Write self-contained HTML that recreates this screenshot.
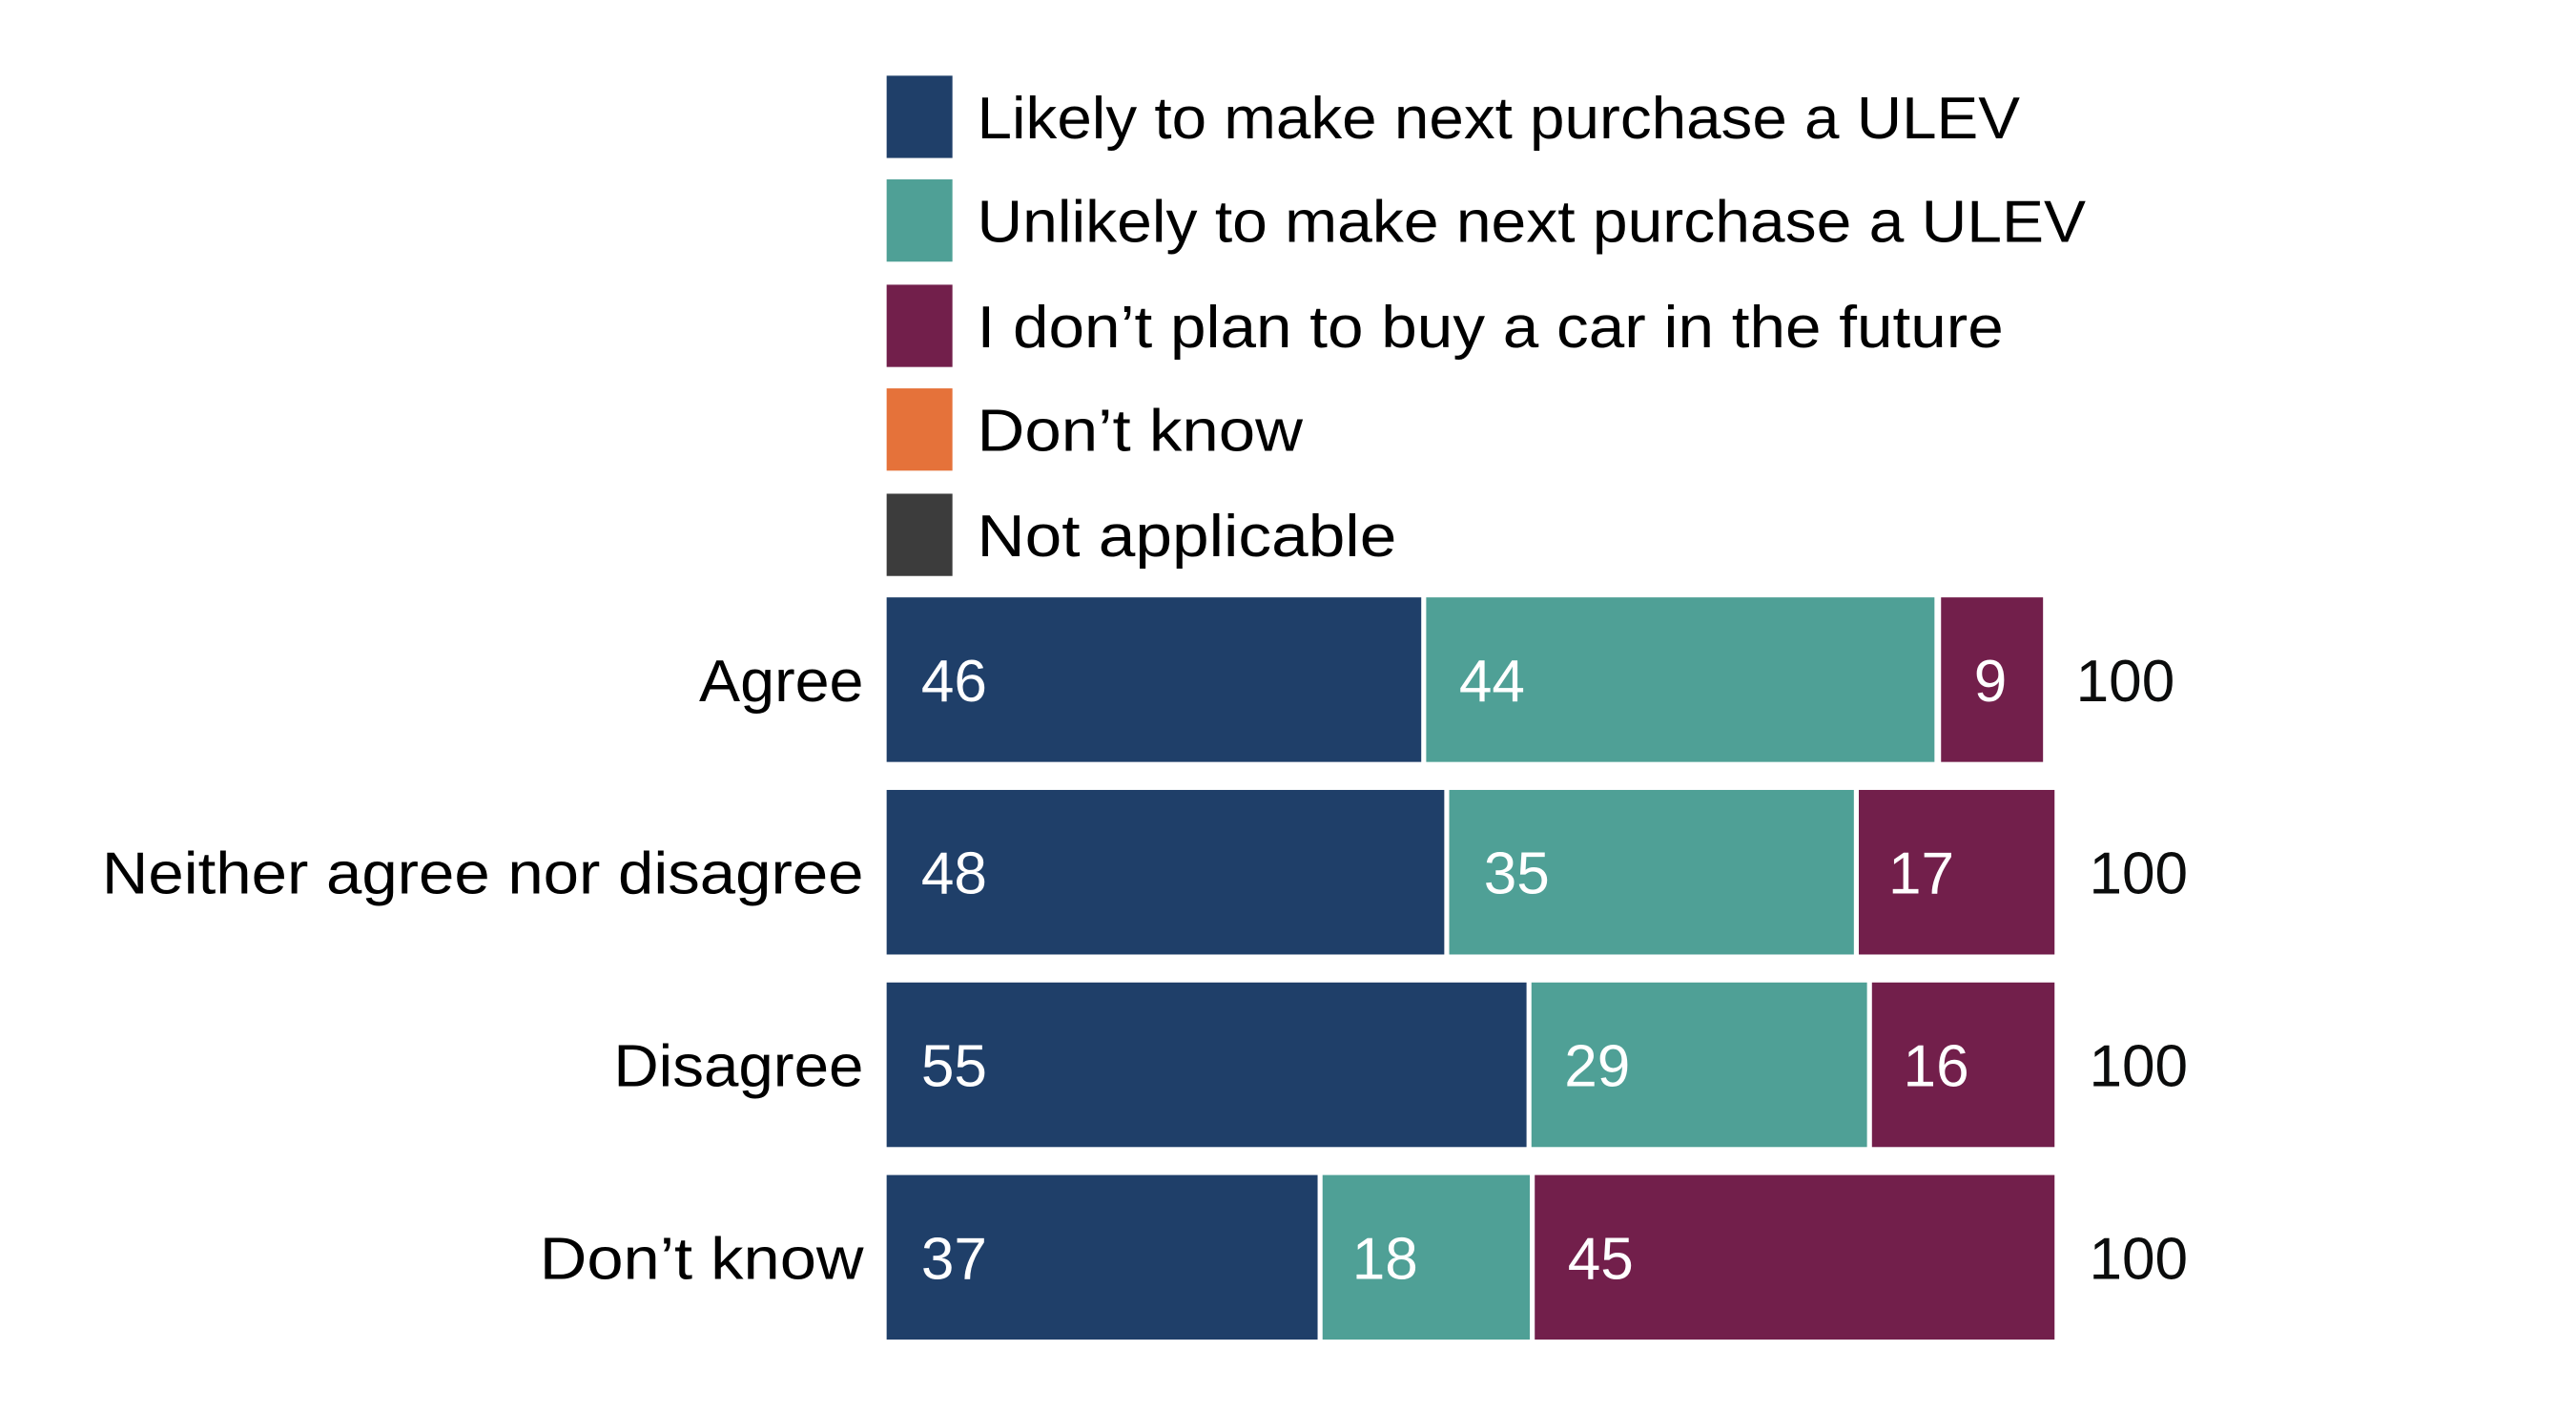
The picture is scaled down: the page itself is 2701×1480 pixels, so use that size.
<!DOCTYPE html>
<html><head><meta charset="utf-8"><style>
html,body{margin:0;padding:0;background:#fff;}
svg{display:block;}
text{font-family:"Liberation Sans",sans-serif;font-size:36px;}
</style></head><body>
<svg width="2701" height="1480" viewBox="0 0 1566 858" preserveAspectRatio="none" xmlns="http://www.w3.org/2000/svg">
<g>
<rect x="539" y="46" width="40" height="50" fill="#1f3f69"/>
<rect x="539" y="109" width="40" height="50" fill="#4fa096"/>
<rect x="539" y="173" width="40" height="50" fill="#721f4b"/>
<rect x="539" y="236" width="40" height="50" fill="#e5723a"/>
<rect x="539" y="300" width="40" height="50" fill="#3c3c3c"/>
<text x="594" y="84" textLength="634" lengthAdjust="spacingAndGlyphs">Likely to make next purchase a ULEV</text>
<text x="594" y="147" textLength="674" lengthAdjust="spacingAndGlyphs">Unlikely to make next purchase a ULEV</text>
<text x="594" y="211" textLength="624" lengthAdjust="spacingAndGlyphs">I don’t plan to buy a car in the future</text>
<text x="594" y="274" textLength="198" lengthAdjust="spacingAndGlyphs">Don’t know</text>
<text x="594" y="338" textLength="255" lengthAdjust="spacingAndGlyphs">Not applicable</text>
</g>
<g text-anchor="end">
<text x="525" y="426" textLength="100" lengthAdjust="spacingAndGlyphs">Agree</text>
<text x="525" y="543" textLength="463" lengthAdjust="spacingAndGlyphs">Neither agree nor disagree</text>
<text x="525" y="660" textLength="152" lengthAdjust="spacingAndGlyphs">Disagree</text>
<text x="525" y="777" textLength="197" lengthAdjust="spacingAndGlyphs">Don’t know</text>
</g>
<g>
<rect x="539" y="363" width="325" height="100" fill="#1f3f69"/>
<rect x="867" y="363" width="309" height="100" fill="#4fa096"/>
<rect x="1180" y="363" width="62" height="100" fill="#721f4b"/>
<rect x="539" y="480" width="339" height="100" fill="#1f3f69"/>
<rect x="881" y="480" width="246" height="100" fill="#4fa096"/>
<rect x="1130" y="480" width="119" height="100" fill="#721f4b"/>
<rect x="539" y="597" width="389" height="100" fill="#1f3f69"/>
<rect x="931" y="597" width="204" height="100" fill="#4fa096"/>
<rect x="1138" y="597" width="111" height="100" fill="#721f4b"/>
<rect x="539" y="714" width="262" height="100" fill="#1f3f69"/>
<rect x="804" y="714" width="126" height="100" fill="#4fa096"/>
<rect x="933" y="714" width="316" height="100" fill="#721f4b"/>
</g>
<g fill="#fff">
<text x="560" y="426">46</text>
<text x="887" y="426">44</text>
<text x="1200" y="426">9</text>
<text x="560" y="543">48</text>
<text x="902" y="543">35</text>
<text x="1148" y="543">17</text>
<text x="560" y="660">55</text>
<text x="951" y="660">29</text>
<text x="1157" y="660">16</text>
<text x="560" y="777">37</text>
<text x="822" y="777">18</text>
<text x="953" y="777">45</text>
</g>
<g fill="#0b0c0c">
<text x="1262" y="426">100</text>
<text x="1270" y="543">100</text>
<text x="1270" y="660">100</text>
<text x="1270" y="777">100</text>
</g>
</svg>
</body></html>
